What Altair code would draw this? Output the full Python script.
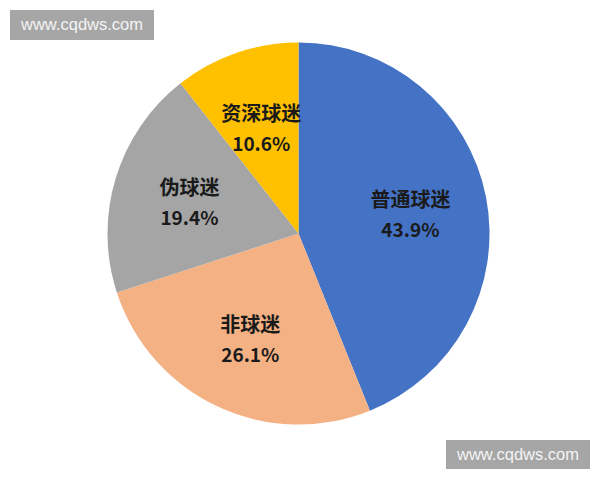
import altair as alt
import pandas as pd

categories = ["普通球迷", "非球迷", "伪球迷", "资深球迷"]
shares = [43.9, 26.1, 19.4, 10.6]
colors = ["#4472C4", "#F4B183", "#A5A5A5", "#FFC000"]
watermark = "www.cqdws.com"

df = pd.DataFrame({
    "cat": categories,
    "share": shares,
    "order": list(range(len(categories))),
    "pct": [f"{v:.1f}%" for v in shares],
})

CX, CY, R = 290.5, 225.5, 191
LR = 114

base = alt.Chart(df).encode(
    theta=alt.Theta("share:Q", stack=True),
    order=alt.Order("order:Q"),
)

pie = base.mark_arc(outerRadius=R, stroke=None).encode(
    color=alt.Color("cat:N", scale=alt.Scale(domain=categories, range=colors), legend=None),
    x=alt.value(CX), y=alt.value(CY),
)

font = "Noto Sans CJK SC"
name_txt = base.mark_text(radius=LR, fontSize=20, fontWeight="bold", font=font,
                          color="#1a1a1a", dy=-11).encode(
    text="cat:N", x=alt.value(CX), y=alt.value(CY))
pct_txt = base.mark_text(radius=LR, fontSize=19, fontWeight="bold", font=font,
                         color="#1a1a1a", dy=19).encode(
    text="pct:N", x=alt.value(CX), y=alt.value(CY))

wm = pd.DataFrame({"t": [watermark]})
wm1_box = alt.Chart(wm).mark_rect(color="#A6A6A6").encode(
    x=alt.value(2), x2=alt.value(146), y=alt.value(2), y2=alt.value(32))
wm1_txt = alt.Chart(wm).mark_text(color="#F4F4F4", fontSize=16.5, font="Liberation Sans").encode(
    text="t:N", x=alt.value(74), y=alt.value(17))
wm2_box = alt.Chart(wm).mark_rect(color="#A6A6A6").encode(
    x=alt.value(438), x2=alt.value(582), y=alt.value(432), y2=alt.value(461))
wm2_txt = alt.Chart(wm).mark_text(color="#F4F4F4", fontSize=16.5, font="Liberation Sans").encode(
    text="t:N", x=alt.value(510), y=alt.value(446.5))

chart = alt.layer(pie, name_txt, pct_txt, wm1_box, wm1_txt, wm2_box, wm2_txt).properties(
    width=584, height=464, autosize=alt.AutoSizeParams(type="none"), padding=0,
    background="white",
).configure_view(stroke=None)

chart.save("out.html", embed_options={"renderer": "svg", "actions": False})
